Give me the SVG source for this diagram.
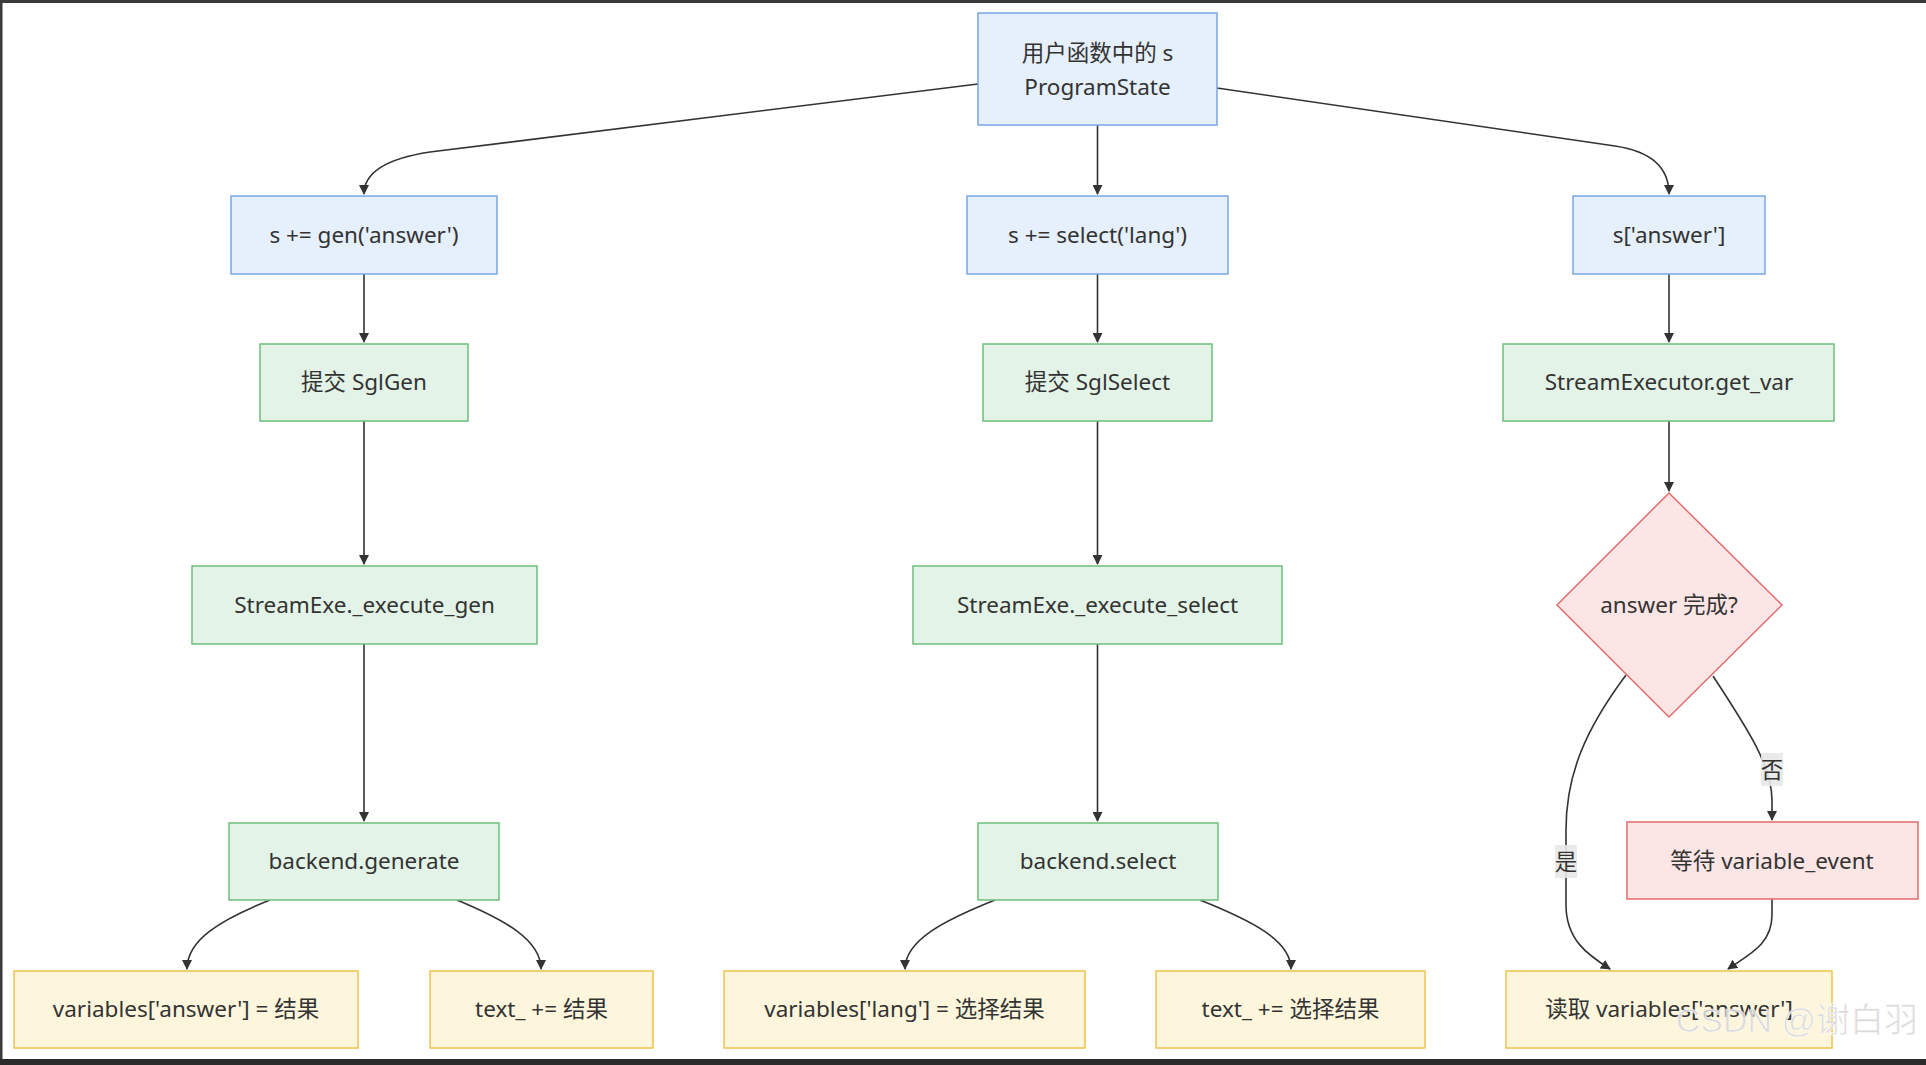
<svg xmlns="http://www.w3.org/2000/svg" width="1926" height="1065" viewBox="0 0 1926 1065">
<defs>
<style>
.t{font-family:"Noto Sans","Noto Sans CJK SC",sans-serif;font-size:22.5px;fill:#333;text-anchor:middle;dominant-baseline:central}
.blue{fill:#e6effc;stroke:#7aa6e6;stroke-width:1.5}
.green{fill:#e4f3e7;stroke:#6cbf7c;stroke-width:1.5}
.yellow{fill:#fdf6dd;stroke:#f0c24c;stroke-width:1.5}
.red{fill:#fce5e5;stroke:#e36b6b;stroke-width:1.5}
.e{fill:none;stroke:#333;stroke-width:1.6}
.lbl{fill:#e8e8e8;opacity:0.9}
</style>
<marker id="arr" viewBox="0 0 10 10" refX="9" refY="5" markerWidth="10" markerHeight="10" markerUnits="userSpaceOnUse" orient="auto">
<path d="M0,0 L10,5 L0,10 z" fill="#333"/>
</marker>
</defs>
<rect x="0" y="0" width="1926" height="1065" fill="#ffffff"/>
<rect x="0" y="0" width="1926" height="3" fill="#3a3a3a"/>
<rect x="0" y="0" width="2.5" height="1065" fill="#3a3a3a"/>
<rect x="0" y="1059" width="1926" height="6" fill="#2a2a2a"/>

<g id="connectors">
<path class="e" d="M978,84 L430,152 Q364,162 364,194" marker-end="url(#arr)"/>
<path class="e" d="M1097.5,125 L1097.5,194" marker-end="url(#arr)"/>
<path class="e" d="M1217,88 L1615,146 Q1669,154 1669,194" marker-end="url(#arr)"/>
<path class="e" d="M364,274 L364,342" marker-end="url(#arr)"/>
<path class="e" d="M364,421 L364,564" marker-end="url(#arr)"/>
<path class="e" d="M364,644 L364,821" marker-end="url(#arr)"/>
<path class="e" d="M270,900 C220,920 187,940 187,969" marker-end="url(#arr)"/>
<path class="e" d="M457,900 C505,920 541,940 541,969" marker-end="url(#arr)"/>
<path class="e" d="M1097.5,274 L1097.5,342" marker-end="url(#arr)"/>
<path class="e" d="M1097.5,421 L1097.5,564" marker-end="url(#arr)"/>
<path class="e" d="M1097.5,644 L1097.5,821" marker-end="url(#arr)"/>
<path class="e" d="M995,900 C945,920 905,940 905,969" marker-end="url(#arr)"/>
<path class="e" d="M1200,900 C1250,920 1291,940 1291,969" marker-end="url(#arr)"/>
<path class="e" d="M1669,274 L1669,342" marker-end="url(#arr)"/>
<path class="e" d="M1669,421 L1669,491" marker-end="url(#arr)"/>
<path class="e" d="M1626,675 C1585,730 1566,775 1566,830 L1566,905 C1566,940 1588,955 1610,969" marker-end="url(#arr)"/>
<path class="e" d="M1713,676 C1745,725 1772,765 1772,800 L1772,820" marker-end="url(#arr)"/>
<path class="e" d="M1772,899 L1772,915 C1772,945 1748,955 1728,969" marker-end="url(#arr)"/>
<rect class="lbl" x="1555" y="845" width="22" height="33"/>
<text class="t" x="1566" y="861">是</text>
<rect class="lbl" x="1761" y="753" width="22" height="33"/>
<text class="t" x="1772" y="769">否</text>
</g>

<g id="n_top"><rect class="blue" x="978" y="13" width="239" height="112"/>
<text class="t" x="1097.5" y="52">用户函数中的 s</text>
<text class="t" x="1097.5" y="86">ProgramState</text></g>

<g id="n_gen"><rect class="blue" x="231" y="196" width="266" height="78"/><text class="t" x="364" y="234">s += gen('answer')</text></g>
<g id="n_select"><rect class="blue" x="967" y="196" width="261" height="78"/><text class="t" x="1097.5" y="234">s += select('lang')</text></g>
<g id="n_get"><rect class="blue" x="1573" y="196" width="192" height="78"/><text class="t" x="1669" y="234">s['answer']</text></g>

<g id="n_sglgen"><rect class="green" x="260" y="344" width="208" height="77"/><text class="t" x="364" y="381">提交 SglGen</text></g>
<g id="n_sglselect"><rect class="green" x="983" y="344" width="229" height="77"/><text class="t" x="1097.5" y="381">提交 SglSelect</text></g>
<g id="n_getvar"><rect class="green" x="1503" y="344" width="331" height="77"/><text class="t" x="1669" y="381">StreamExecutor.get_var</text></g>

<g id="n_execgen"><rect class="green" x="192" y="566" width="345" height="78"/><text class="t" x="364.5" y="604">StreamExe._execute_gen</text></g>
<g id="n_execsel"><rect class="green" x="913" y="566" width="369" height="78"/><text class="t" x="1097.5" y="604">StreamExe._execute_select</text></g>
<g id="n_decision"><polygon class="red" points="1669,493 1782,605 1669,717 1557,605"/><text class="t" x="1669" y="604">answer 完成?</text></g>

<g id="n_bgen"><rect class="green" x="229" y="823" width="270" height="77"/><text class="t" x="364" y="860">backend.generate</text></g>
<g id="n_bsel"><rect class="green" x="978" y="823" width="240" height="77"/><text class="t" x="1098" y="860">backend.select</text></g>
<g id="n_wait"><rect class="red" x="1627" y="822" width="291" height="77"/><text class="t" x="1772" y="860">等待 variable_event</text></g>

<g id="n_va"><rect class="yellow" x="14" y="971" width="344" height="77"/><text class="t" x="186" y="1008">variables['answer'] = 结果</text></g>
<g id="n_ta"><rect class="yellow" x="430" y="971" width="223" height="77"/><text class="t" x="541.5" y="1008">text_ += 结果</text></g>
<g id="n_vl"><rect class="yellow" x="724" y="971" width="361" height="77"/><text class="t" x="904.5" y="1008">variables['lang'] = 选择结果</text></g>
<g id="n_tl"><rect class="yellow" x="1156" y="971" width="269" height="77"/><text class="t" x="1290.5" y="1008">text_ += 选择结果</text></g>
<g id="n_read"><rect class="yellow" x="1506" y="971" width="326" height="77"/><text class="t" x="1669" y="1008">读取 variables['answer']</text></g>

<text x="1918" y="1032" font-family="'Liberation Sans','Noto Sans CJK SC',sans-serif" font-size="34" fill="#d8d8d8" stroke="#ffffff" stroke-width="0.6" text-anchor="end" opacity="0.9">CSDN @谢白羽</text>
</svg>
